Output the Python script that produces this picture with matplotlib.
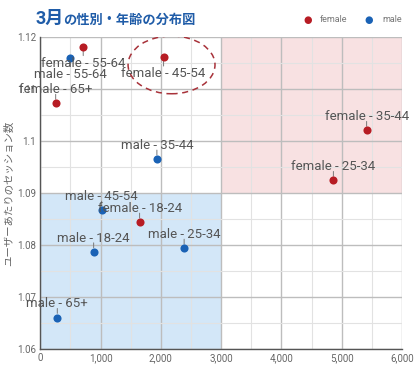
import matplotlib
matplotlib.use("Agg")
import matplotlib.pyplot as plt
from matplotlib.patches import Ellipse

plt.rcParams['font.family'] = ['Roboto', 'Noto Sans CJK JP', 'DejaVu Sans']

# data
female_ages = ["18-24", "25-34", "35-44", "45-54", "55-64", "65+"]
female_users = [1647, 4862, 5413, 2045, 712, 255]
female_sessions = [1.0844, 1.0924, 1.1020, 1.1161, 1.1181, 1.1072]

male_ages = ["18-24", "25-34", "35-44", "45-54", "55-64", "65+"]
male_users = [885, 2386, 1934, 1017, 497, 282]
male_sessions = [1.0787, 1.0794, 1.0965, 1.0867, 1.1160, 1.0661]

# labels placed under the point instead of above it
below = ["female - 45-54", "female - 55-64", "male - 55-64"]

red = "#b71c24"
blue = "#1a62b5"
grey = "#666666"

fig = plt.figure(figsize=(4.18, 3.70), dpi=100)
ax = fig.add_axes([40.3 / 418, 1 - 349.3 / 370, (402 - 40.3) / 418, (349.3 - 36.7) / 370])

ax.set_xlim(0, 6000)
ax.set_ylim(1.06, 1.12)

# highlighted areas
ax.fill_between([0, 3000], 1.06, 1.09, color="#d3e7f8", zorder=0.2, lw=0)
ax.fill_between([3000, 6000], 1.09, 1.12, color="#f8e1e2", zorder=0.2, lw=0)

ax.set_xticks(range(0, 6001, 1000))
ax.set_xticks(range(500, 6000, 1000), minor=True)
ax.set_yticks([1.06, 1.07, 1.08, 1.09, 1.10, 1.11, 1.12])
ax.set_yticks([1.065, 1.075, 1.085, 1.095, 1.105, 1.115], minor=True)
ax.set_xticklabels(["0", "1,000", "2,000", "3,000", "4,000", "5,000", "6,000"])
ax.set_yticklabels(["1.06", "1.07", "1.08", "1.09", "1.1", "1.11", "1.12"])
ax.set_axisbelow(True)
ax.grid(which="major", color="#bdbdbd", lw=1.0)
ax.grid(which="minor", color="#e2e2e2", lw=0.8)
ax.tick_params(which="both", length=0, labelsize=7, colors=grey, pad=3)
for side in ["top", "right"]:
    ax.spines[side].set_visible(False)
for side in ["left", "bottom"]:
    ax.spines[side].set_color("#555555")
    ax.spines[side].set_linewidth(1.0)

ax.scatter(female_users, female_sessions, s=34, color=red, zorder=3, lw=0)
ax.scatter(male_users, male_sessions, s=34, color=blue, zorder=3, lw=0)

def put_labels(gender, users, sessions, ages):
    for x, y, a in zip(users, sessions, ages):
        name = gender + " - " + a
        d = -1 if name in below else 1
        ax.annotate("", xy=(x, y), xytext=(0, 6.5 * d), textcoords="offset points",
                    arrowprops=dict(arrowstyle="-", color="#777777", lw=0.7,
                                    shrinkA=0, shrinkB=3), zorder=2)
        ax.annotate(name, xy=(x, y), xytext=(0, 11 * d), textcoords="offset points",
                    ha="center", va="center_baseline",
                    fontsize=9.5, color="#555555", zorder=4)

put_labels("female", female_users, female_sessions, female_ages)
put_labels("male", male_users, male_sessions, male_ages)

ax.add_patch(Ellipse((2177, 1.1146), 1442, 0.0111, fill=False, ec="#a8323a",
                     ls=(0, (4, 3)), lw=1.1, zorder=4))

ax.set_ylabel("ユーザーあたりのセッション数", fontsize=7.5, color=grey, labelpad=2)

# title
fig.text(36 / 418, 1 - 24 / 370, "3月", fontsize=13, fontweight="bold", color="#1f5ca8")
fig.text(63 / 418, 1 - 24 / 370, "の性別・年齢の分布図", fontsize=9.5, fontweight="bold",
         color="#1f5ca8")

# legend
fig.text(308 / 418, 1 - 20 / 370, "●", color=red, fontsize=7, ha="center", va="center",
         family="DejaVu Sans")
fig.text(320 / 418, 1 - 20 / 370, "female", color="#777777", fontsize=6.5, va="center")
fig.text(369 / 418, 1 - 20 / 370, "●", color=blue, fontsize=7, ha="center", va="center",
         family="DejaVu Sans")
fig.text(382 / 418, 1 - 20 / 370, "male", color="#777777", fontsize=6.5, va="center")

fig.savefig("out.png", dpi=100)
